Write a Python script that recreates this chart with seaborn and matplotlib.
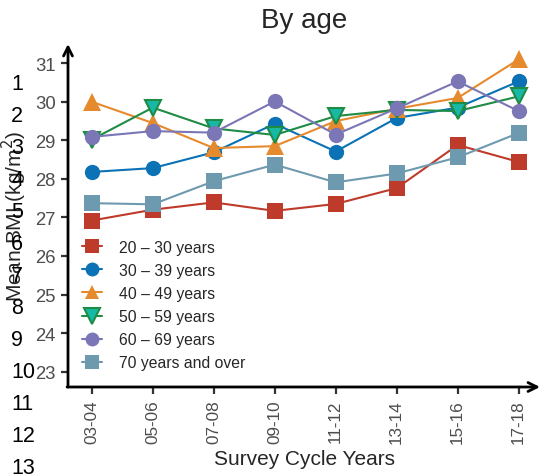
import pandas as pd
import numpy as np
import seaborn as sns
import matplotlib
matplotlib.use('Agg')
import matplotlib.pyplot as plt
from matplotlib.lines import Line2D

cycles = ["03-04", "05-06", "07-08", "09-10", "11-12", "13-14", "15-16", "17-18"]
groups = ["20 – 30 years", "30 – 39 years", "40 – 49 years",
          "50 – 59 years", "60 – 69 years", "70 years and over"]

bmi_20_30 = [26.92, 27.20, 27.39, 27.17, 27.35, 27.76, 28.88, 28.44]
bmi_30_39 = [28.18, 28.28, 28.69, 29.43, 28.71, 29.58, 29.85, 30.53]
bmi_40_49 = [30.00, 29.45, 28.80, 28.85, 29.50, 29.82, 30.10, 31.10]
bmi_50_59 = [29.02, 29.85, 29.31, 29.14, 29.63, 29.79, 29.76, 30.14]
bmi_60_69 = [29.09, 29.24, 29.20, 30.01, 29.15, 29.83, 30.53, 29.76]
bmi_70_up = [27.37, 27.34, 27.94, 28.37, 27.91, 28.14, 28.56, 29.19]

series = [bmi_20_30, bmi_30_39, bmi_40_49, bmi_50_59, bmi_60_69, bmi_70_up]
df = pd.DataFrame({
    "cycle": cycles * len(groups),
    "group": np.repeat(groups, len(cycles)),
    "bmi": np.concatenate(series),
})

colors = ["#BE3A2B", "#0A72B5", "#E68A2E", "#1E8C45", "#7B76B6", "#6E9AAF"]
markers = ["s", "o", "^", "v", "o", "s"]
green_face = "#17B8A6"

sns.set_style("white")
plt.rcParams['font.family'] = ['Liberation Sans', 'DejaVu Sans']

fig = plt.figure(figsize=(5.43, 4.77), dpi=100)
ax = fig.add_axes([68 / 543, 1 - 388 / 477, 472 / 543, 343 / 477])

sns.lineplot(data=df, x="cycle", y="bmi", hue="group", style="group",
             palette=dict(zip(groups, colors)), markers=dict(zip(groups, markers)),
             dashes=False, markersize=11, linewidth=1.5, markeredgewidth=0,
             sort=False, ax=ax, legend=False)

lines = ax.get_lines()
for ln, g in zip(lines, groups):
    if g == "50 – 59 years":
        ln.set_markerfacecolor(green_face)
        ln.set_markeredgecolor("#1E8C45")
        ln.set_markeredgewidth(1.5)
        ln.set_markersize(12)
    if g == "40 – 49 years":
        ln.set_markersize(12.5)

ax.set_xlim(-0.39, 7.35)
ax.set_ylim(22.6, 31.5)
ax.set_yticks(range(23, 32))

for s in ax.spines.values():
    s.set_visible(False)
ax.annotate("", xy=(0, 1.0), xytext=(0, 0), xycoords="axes fraction",
            arrowprops=dict(arrowstyle="->", lw=2, color="black", mutation_scale=16,
                            shrinkA=0, shrinkB=0))
ax.annotate("", xy=(1.0, 0), xytext=(-0.002, 0), xycoords="axes fraction",
            arrowprops=dict(arrowstyle="->", lw=2, color="black", mutation_scale=16,
                            shrinkA=0, shrinkB=0))

ax.tick_params(axis="both", which="both", length=5, width=1.6, color="#333333",
               labelcolor="#4D4D4D", left=True, bottom=True, pad=4)
ax.tick_params(axis="y", labelsize=13.3)
ax.tick_params(axis="x", labelsize=12.3)
plt.setp(ax.get_xticklabels(), rotation=90)

ax.set_xlabel("Survey Cycle Years", fontsize=15, labelpad=4)
ax.set_ylabel("Mean BMI (kg/m$^2$)", fontsize=15, labelpad=4)
ax.set_title("By age", fontsize=20, pad=12)

handles = []
for g, c, m in zip(groups, colors, markers):
    if g == "50 – 59 years":
        h = Line2D([], [], color=c, marker=m, markersize=11, markerfacecolor=green_face,
                   markeredgecolor=c, markeredgewidth=1.5, lw=1.5)
    else:
        h = Line2D([], [], color=c, marker=m, markersize=10, markeredgewidth=0, lw=1.5)
    handles.append(h)
ax.legend(handles, groups, loc="lower left", bbox_to_anchor=(0.009, 0.021), frameon=False,
          fontsize=11.3, handlelength=1.3, handletextpad=1.1, labelspacing=0.52,
          borderaxespad=0.2)

# stray line numbers down the left margin
for i in range(1, 14):
    fig.text(11 / 543, 1 - (85 + (i - 1) * 32) / 477, str(i), fontsize=15.5,
             ha="left", va="center", color="black")

fig.savefig("out.png", dpi=100)
